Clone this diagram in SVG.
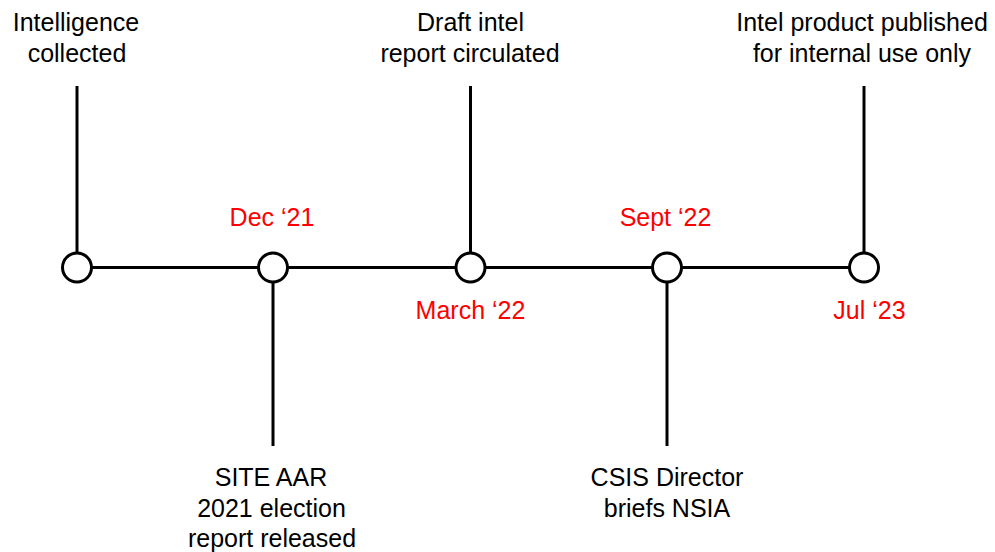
<svg xmlns="http://www.w3.org/2000/svg" width="995" height="552" viewBox="0 0 995 552">
  <style>
    .lbl { font-family: "Liberation Sans", Arial, sans-serif; font-size: 25px; fill: #000; text-anchor: middle; }
    .date { font-family: "Liberation Sans", Arial, sans-serif; font-size: 25px; fill: #ff0000; text-anchor: middle; }
    .line { stroke: #000; stroke-width: 3; fill: none; }
    .dot { fill: #fff; stroke: #000; stroke-width: 3; }
  </style>
  <rect width="995" height="552" fill="#fff"/>

  <!-- connectors: timeline axis and stems -->
  <g id="connectors">
    <line class="line" x1="77" y1="267.5" x2="864" y2="267.5"/>
    <line class="line" x1="77" y1="86" x2="77" y2="253"/>
    <line class="line" x1="273" y1="282" x2="273" y2="446"/>
    <line class="line" x1="470.5" y1="86" x2="470.5" y2="253"/>
    <line class="line" x1="667" y1="282" x2="667" y2="446"/>
    <line class="line" x1="864" y1="86" x2="864" y2="253"/>
  </g>

  <g id="event-collected">
    <circle class="dot" cx="77" cy="267.5" r="14.5"/>
    <text class="lbl" x="76" y="31">Intelligence</text>
    <text class="lbl" x="77" y="61.5">collected</text>
  </g>

  <g id="event-site-aar">
    <circle class="dot" cx="273" cy="267.5" r="14.5"/>
    <text class="date" x="272" y="226">Dec ‘21</text>
    <text class="lbl" x="271" y="486">SITE AAR</text>
    <text class="lbl" x="271.5" y="516.5">2021 election</text>
    <text class="lbl" x="272" y="547">report released</text>
  </g>

  <g id="event-draft">
    <circle class="dot" cx="470.5" cy="267.5" r="14.5"/>
    <text class="lbl" x="470.5" y="31">Draft intel</text>
    <text class="lbl" x="470" y="61.5">report circulated</text>
    <text class="date" x="470.5" y="319">March ‘22</text>
  </g>

  <g id="event-briefing">
    <circle class="dot" cx="667" cy="267.5" r="14.5"/>
    <text class="date" x="665.5" y="226">Sept ‘22</text>
    <text class="lbl" x="667" y="486">CSIS Director</text>
    <text class="lbl" x="667" y="516.5">briefs NSIA</text>
  </g>

  <g id="event-published">
    <circle class="dot" cx="864" cy="267.5" r="14.5"/>
    <text class="lbl" x="862" y="31">Intel product published</text>
    <text class="lbl" x="862" y="61.5">for internal use only</text>
    <text class="date" x="869.5" y="319">Jul ‘23</text>
  </g>
</svg>
